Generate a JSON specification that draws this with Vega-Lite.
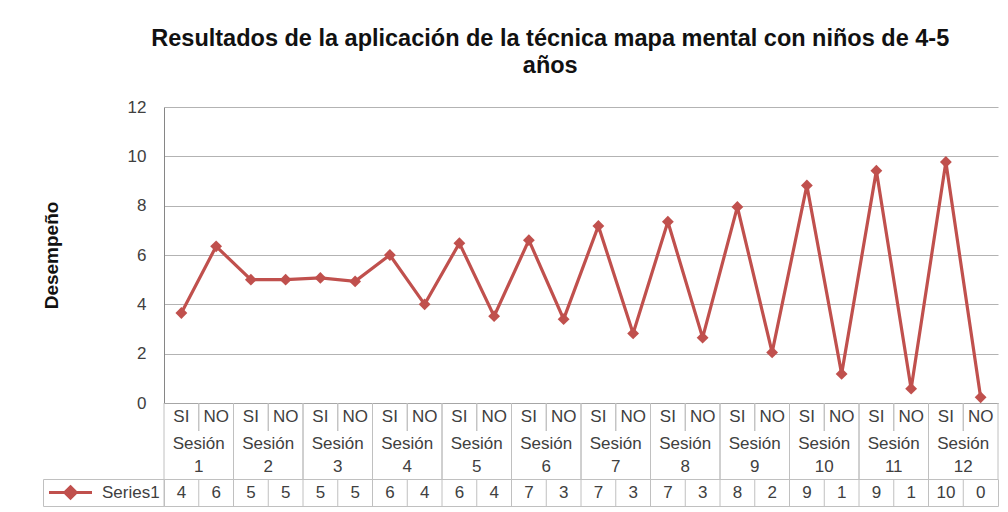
{
  "$schema": "https://vega.github.io/schema/vega-lite/v6.json",
  "padding": {"left": 42, "top": 26, "right": 5, "bottom": 4},
  "background": "white",
  "title": {
    "text": ["Resultados de la aplicación de la técnica mapa mental con niños de 4-5", "años"],
    "font": "Liberation Sans",
    "fontSize": 23.5,
    "fontWeight": "bold",
    "color": "#111111",
    "lineHeight": 27,
    "anchor": "middle",
    "offset": 21,
    "dx": 30
  },
  "datasets": {
    "d": [
      {"n": 1, "sesion": "Sesión 1", "cond": "SI", "valor": 3.65, "serie": "Series1"},
      {"n": 2, "sesion": "Sesión 1", "cond": "NO", "valor": 6.35, "serie": "Series1"},
      {"n": 3, "sesion": "Sesión 2", "cond": "SI", "valor": 5.0, "serie": "Series1"},
      {"n": 4, "sesion": "Sesión 2", "cond": "NO", "valor": 5.0, "serie": "Series1"},
      {"n": 5, "sesion": "Sesión 3", "cond": "SI", "valor": 5.07, "serie": "Series1"},
      {"n": 6, "sesion": "Sesión 3", "cond": "NO", "valor": 4.93, "serie": "Series1"},
      {"n": 7, "sesion": "Sesión 4", "cond": "SI", "valor": 6.0, "serie": "Series1"},
      {"n": 8, "sesion": "Sesión 4", "cond": "NO", "valor": 4.0, "serie": "Series1"},
      {"n": 9, "sesion": "Sesión 5", "cond": "SI", "valor": 6.48, "serie": "Series1"},
      {"n": 10, "sesion": "Sesión 5", "cond": "NO", "valor": 3.52, "serie": "Series1"},
      {"n": 11, "sesion": "Sesión 6", "cond": "SI", "valor": 6.6, "serie": "Series1"},
      {"n": 12, "sesion": "Sesión 6", "cond": "NO", "valor": 3.4, "serie": "Series1"},
      {"n": 13, "sesion": "Sesión 7", "cond": "SI", "valor": 7.18, "serie": "Series1"},
      {"n": 14, "sesion": "Sesión 7", "cond": "NO", "valor": 2.82, "serie": "Series1"},
      {"n": 15, "sesion": "Sesión 8", "cond": "SI", "valor": 7.35, "serie": "Series1"},
      {"n": 16, "sesion": "Sesión 8", "cond": "NO", "valor": 2.65, "serie": "Series1"},
      {"n": 17, "sesion": "Sesión 9", "cond": "SI", "valor": 7.95, "serie": "Series1"},
      {"n": 18, "sesion": "Sesión 9", "cond": "NO", "valor": 2.05, "serie": "Series1"},
      {"n": 19, "sesion": "Sesión 10", "cond": "SI", "valor": 8.82, "serie": "Series1"},
      {"n": 20, "sesion": "Sesión 10", "cond": "NO", "valor": 1.18, "serie": "Series1"},
      {"n": 21, "sesion": "Sesión 11", "cond": "SI", "valor": 9.42, "serie": "Series1"},
      {"n": 22, "sesion": "Sesión 11", "cond": "NO", "valor": 0.58, "serie": "Series1"},
      {"n": 23, "sesion": "Sesión 12", "cond": "SI", "valor": 9.77, "serie": "Series1"},
      {"n": 24, "sesion": "Sesión 12", "cond": "NO", "valor": 0.23, "serie": "Series1"}
    ]
  },
  "spacing": 0,
  "bounds": "flush",
  "resolve": {"scale": {"color": "independent"}, "legend": {"color": "independent"}},
  "vconcat": [
    {
      "width": 834,
      "height": 296,
      "data": {"name": "d"},
      "encoding": {
        "x": {"field": "n", "type": "ordinal", "axis": {"labels": false, "ticks": false, "title": null, "grid": false, "domainColor": "#a6a6a6"}},
        "y": {
          "field": "valor",
          "type": "quantitative",
          "scale": {"domain": [0, 12], "nice": false},
          "axis": {
            "values": [0, 2, 4, 6, 8, 10, 12],
            "title": "Desempeño",
            "titleFontSize": 19,
            "titleFontWeight": "bold",
            "titleColor": "#111111",
            "titlePadding": 66,
            "labelFontSize": 17,
            "labelColor": "#404040",
            "labelPadding": 18,
            "ticks": false,
            "domainColor": "#868686",
            "gridColor": "#b3b3b3"
          }
        }
      },
      "layer": [
        {"mark": {"type": "line", "color": "#C0504D", "strokeWidth": 3.2}},
        {"mark": {"type": "point", "shape": "diamond", "filled": true, "size": 140, "color": "#C0504D", "opacity": 1}}
      ]
    },
    {
      "width": 834,
      "height": 28,
      "data": {"name": "d"},
      "layer": [
        {"mark": {"type": "rule", "color": "#c0c0c0"}, "encoding": {"x": {"field": "n", "type": "ordinal", "bandPosition": 0, "scale": {"type": "band", "paddingInner": 0, "paddingOuter": 0}, "axis": null}}},
        {"mark": {"type": "rule", "color": "#c0c0c0"}, "encoding": {"x": {"field": "n", "type": "ordinal", "bandPosition": 1, "scale": {"type": "band", "paddingInner": 0, "paddingOuter": 0}, "axis": null}}},
        {"mark": {"type": "text", "fontSize": 17, "color": "#404040"}, "encoding": {"x": {"field": "n", "type": "ordinal", "bandPosition": 0.5, "scale": {"type": "band", "paddingInner": 0, "paddingOuter": 0}, "axis": null}, "text": {"field": "cond"}}}
      ]
    },
    {
      "width": 834,
      "height": 48,
      "data": {"name": "d"},
      "transform": [{"filter": {"field": "cond", "equal": "SI"}}],
      "layer": [
        {"mark": {"type": "rule", "color": "#c0c0c0"}, "encoding": {"x": {"field": "sesion", "type": "ordinal", "sort": null, "bandPosition": 0, "scale": {"type": "band", "paddingInner": 0, "paddingOuter": 0}, "axis": null}}},
        {"mark": {"type": "rule", "color": "#c0c0c0"}, "encoding": {"x": {"field": "sesion", "type": "ordinal", "sort": null, "bandPosition": 1, "scale": {"type": "band", "paddingInner": 0, "paddingOuter": 0}, "axis": null}}},
        {"mark": {"type": "text", "fontSize": 17, "color": "#404040", "lineBreak": " ", "lineHeight": 23, "dy": -11.5}, "encoding": {"x": {"field": "sesion", "type": "ordinal", "sort": null, "bandPosition": 0.5, "scale": {"type": "band", "paddingInner": 0, "paddingOuter": 0}, "axis": null}, "text": {"field": "sesion"}}}
      ]
    },
    {
      "width": 834,
      "height": 27,
      "data": {"name": "d"},
      "view": {"stroke": "#c0c0c0"},
      "layer": [
        {"mark": {"type": "rule", "color": "#c0c0c0"}, "encoding": {"x": {"field": "n", "type": "ordinal", "bandPosition": 0, "scale": {"type": "band", "paddingInner": 0, "paddingOuter": 0}, "axis": null}}},
        {"mark": {"type": "text", "fontSize": 17, "color": "#404040"}, "encoding": {"x": {"field": "n", "type": "ordinal", "bandPosition": 0.5, "scale": {"type": "band", "paddingInner": 0, "paddingOuter": 0}, "axis": null}, "text": {"field": "valor", "type": "quantitative", "format": ".0f"}}},
        {
          "mark": {"type": "point", "filled": true, "opacity": 0},
          "encoding": {
            "x": {"field": "n", "type": "ordinal", "bandPosition": 0.5, "scale": {"type": "band", "paddingInner": 0, "paddingOuter": 0}, "axis": null},
            "color": {
              "field": "serie",
              "type": "nominal",
              "scale": {"range": ["#C0504D"]},
              "legend": {
                "title": null,
                "orient": "left",
                "offset": 0,
                "padding": 4,
                "strokeColor": "#c0c0c0",
                "symbolType": "M-1,0H1M0,-0.26L0.26,0L0,0.26L-0.26,0Z",
                "symbolSize": 1849,
                "symbolStrokeWidth": 3.2,
                "symbolStrokeColor": "#C0504D",
                "symbolFillColor": "#C0504D",
                "symbolOpacity": 1,
                "labelFontSize": 17,
                "labelColor": "#404040",
                "labelOffset": 8,
                "labelFont": "Liberation Sans",
                "clipHeight": 19
              }
            }
          }
        }
      ]
    }
  ],
  "config": {
    "font": "Liberation Sans",
    "view": {"stroke": null}
  }
}
